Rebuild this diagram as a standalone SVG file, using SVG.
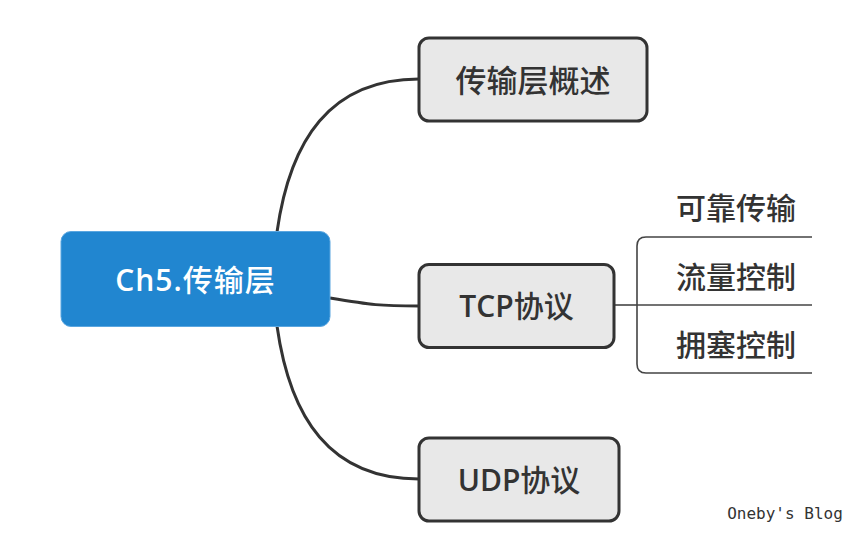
<svg xmlns="http://www.w3.org/2000/svg" width="856" height="537" viewBox="0 0 856 537">
<style>
.topic{fill:#e8e8e8;stroke:#333;stroke-width:3}
.t{font-family:"Open Sans","Noto Sans CJK SC",sans-serif;font-weight:500;fill:#333;text-anchor:middle}
.l{font-weight:600}
.conn{fill:none;stroke:#333;stroke-width:3}
.sub{fill:none;stroke:#444;stroke-width:1.6}
</style>
<rect width="856" height="537" fill="#fff"/>
<g id="connectors">
<path class="conn" d="M277 232 C290 140 330 79 419 79"/>
<path class="conn" d="M330 298 C372 305 380 306 419 306"/>
<path class="conn" d="M277 326 C290 418 330 479 419 479"/>
<path class="sub" d="M614 305 H637"/>
<path class="sub" d="M812 237 H646 Q637 237 637 246 V364 Q637 373 646 373 H812"/>
<path class="sub" d="M637 305 H812"/>
</g>
<g id="center">
<rect x="61" y="231.5" width="269" height="95" rx="10" fill="#2186d0" stroke="#5aa6e0" stroke-width="1"/>
<text class="t" x="195.5" y="291" font-size="30" letter-spacing="1" style="fill:#fff"><tspan class="l">Ch5.</tspan>传输层</text>
</g>
<g id="overview">
<rect class="topic" x="419" y="38" width="228" height="83" rx="10"/>
<text class="t" x="533" y="92" font-size="31">传输层概述</text>
</g>
<g id="tcp">
<rect class="topic" x="419" y="264.5" width="195" height="83" rx="10"/>
<text class="t" x="516.5" y="317" font-size="30"><tspan class="l">TCP</tspan>协议</text>
</g>
<g id="udp">
<rect class="topic" x="419" y="438" width="200" height="83" rx="10"/>
<text class="t" x="519" y="491" font-size="30"><tspan class="l">UDP</tspan>协议</text>
</g>
<g id="reliable"><text class="t" x="736" y="219" font-size="30">可靠传输</text></g>
<g id="flow"><text class="t" x="736" y="288" font-size="30">流量控制</text></g>
<g id="congestion"><text class="t" x="736" y="356" font-size="30">拥塞控制</text></g>
<text x="785" y="519" font-family="DejaVu Sans Mono, monospace" font-size="16" fill="#333" text-anchor="middle">Oneby's Blog</text>
</svg>
